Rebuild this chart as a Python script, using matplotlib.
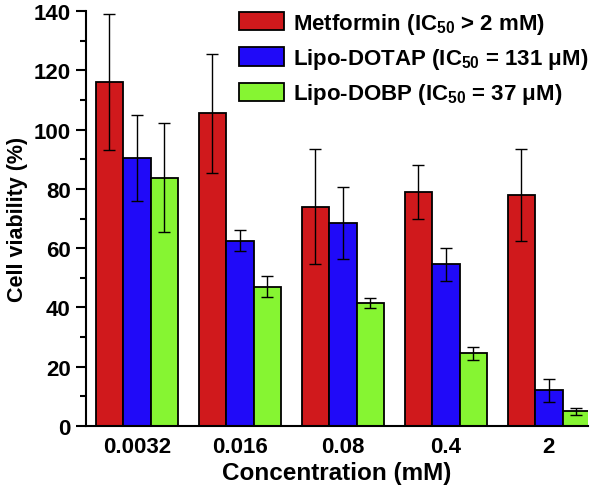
import matplotlib
matplotlib.use("Agg")
import matplotlib.pyplot as plt
from matplotlib.ticker import MultipleLocator
import numpy as np

plt.rcParams['font.family'] = ['Liberation Sans', 'DejaVu Sans']
plt.rcParams['font.weight'] = 'bold'
plt.rcParams['mathtext.fontset'] = 'custom'
plt.rcParams['mathtext.rm'] = 'Liberation Sans:bold'
plt.rcParams['mathtext.bf'] = 'Liberation Sans:bold'

# concentrations (mM)
concentrations = ['0.0032', '0.016', '0.08', '0.4', '2']

# cell viability (%) and error bars
metformin = [116, 105.5, 74, 79, 78]
metformin_err = [23, 20, 19.5, 9, 15.5]
dotap = [90.5, 62.5, 68.5, 54.5, 12]
dotap_err = [14.5, 3.5, 12, 5.5, 4]
dobp = [83.8, 47, 41.5, 24.5, 5]
dobp_err = [18.3, 3.5, 1.8, 2.3, 1.2]

labels = [r'Metformin (IC$_{50}$ > 2 mM)',
          r'Lipo-DOTAP (IC$_{50}$ = 131 μM)',
          r'Lipo-DOBP (IC$_{50}$ = 37 μM)']
colors = ['#D0191C', '#200AF8', '#86F532']

fig = plt.figure(figsize=(6, 4.89), dpi=100)
ax = fig.add_axes([0.143, 0.127, 0.837, 0.848])

x = np.arange(len(concentrations))
w = 0.267
series = [(metformin, metformin_err), (dotap, dotap_err), (dobp, dobp_err)]
for i, (vals, errs) in enumerate(series):
    ax.bar(x + (i - 1) * w, vals, w, color=colors[i], edgecolor='black',
           linewidth=1.3, label=labels[i],
           yerr=errs, error_kw=dict(ecolor='black', elinewidth=1.0,
                                    capsize=4, capthick=1.0))

ax.set_xlim(-0.495, 4.38)
ax.set_ylim(0, 140)
ax.set_xticks(x)
ax.set_xticklabels(concentrations)
ax.yaxis.set_major_locator(MultipleLocator(20))
ax.yaxis.set_minor_locator(MultipleLocator(10))
ax.tick_params(axis='x', length=0, labelsize=16, pad=7)
ax.tick_params(axis='y', which='major', length=7, width=1.5, labelsize=16, pad=4)
ax.tick_params(axis='y', which='minor', length=4, width=1.5)
for s in ['top', 'right']:
    ax.spines[s].set_visible(False)
for s in ['left', 'bottom']:
    ax.spines[s].set_linewidth(1.5)

ax.set_xlabel('Concentration (mM)', fontsize=17.5, fontweight='bold', labelpad=3)
ax.set_ylabel('Cell viability (%)', fontsize=15.5, fontweight='bold', labelpad=4)

ax.legend(loc='upper left', bbox_to_anchor=(0.387, 0.99),
          bbox_transform=fig.transFigure, borderaxespad=0, borderpad=0.3,
          frameon=False, fontsize=16, handlelength=2.05, handleheight=0.9,
          labelspacing=0.47, handletextpad=0.38)

fig.savefig('out.png', dpi=100)
